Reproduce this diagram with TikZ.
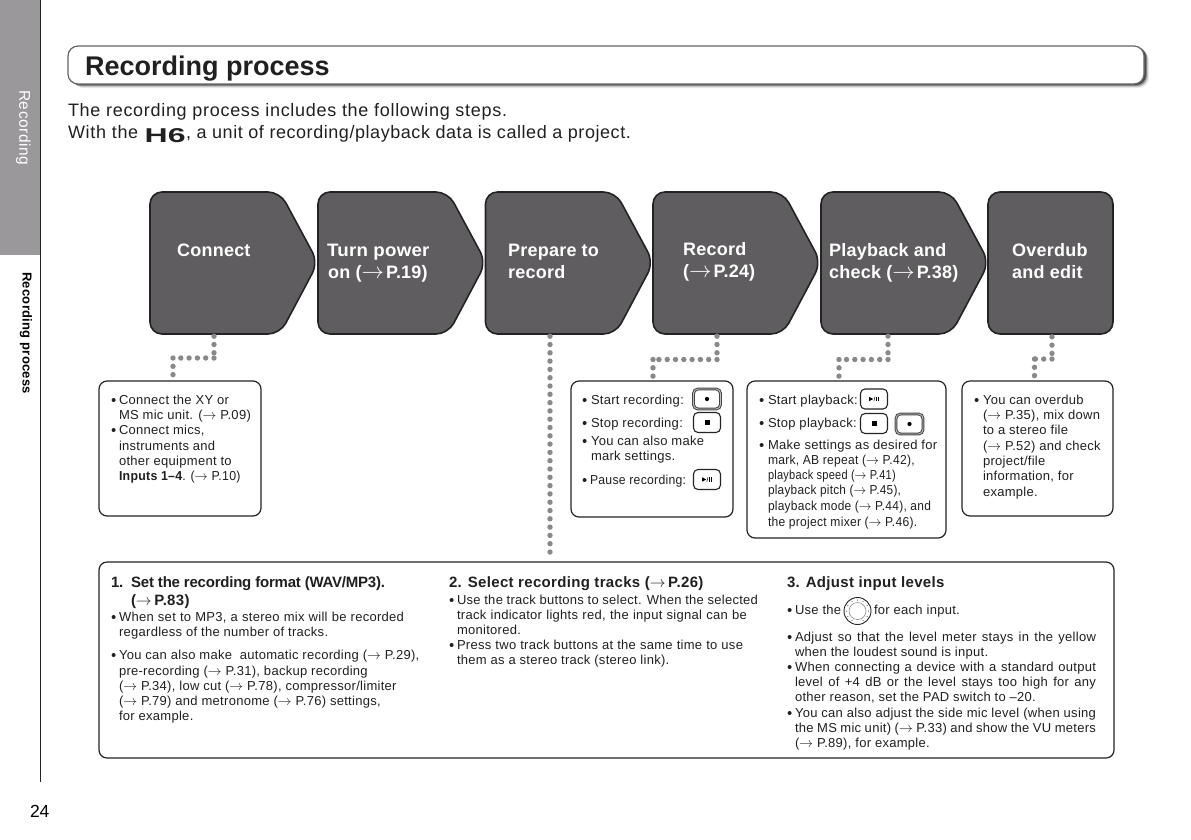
\documentclass[tikz,border=0pt]{standalone}
\usepackage{fontspec}
\setmainfont{Liberation Sans}
\newfontfamily\bodyf[LetterSpace=2.2]{Liberation Sans}
\newfontfamily\introf[LetterSpace=3.9]{Liberation Sans}
\newfontfamily\introg[LetterSpace=3.1]{Liberation Sans}
\newfontfamily\headf[LetterSpace=1.2]{Liberation Sans}
\newfontfamily\sidef[LetterSpace=3.5]{Liberation Sans}
\newfontfamily\sideg[LetterSpace=2.1]{Liberation Sans}
\newfontfamily\tightf[LetterSpace=-1.5]{Liberation Sans}
\newcount\tcnt
\newcommand{\AR}{\scalebox{1.15}{$\rightarrow$}}
\newcommand{\ARH}{\scalebox{1.3}{$\rightarrow$}\hspace{2pt}}
\newcommand{\ARS}{\scalebox{1.1}{$\rightarrow$}\,}
\definecolor{boxfill}{HTML}{5F5D5F}
\definecolor{edgec}{HTML}{232323}
\definecolor{sidec}{HTML}{9A989A}
\definecolor{dotc}{HTML}{8A888A}
\definecolor{inkc}{HTML}{202020}
\tikzset{
  txt/.style={anchor=base west,inner sep=0pt,outer sep=0pt,text=inkc,font=\bodyf\fontsize{13}{13}\selectfont},
  steptxt/.style={anchor=base west,inner sep=0pt,text=white,font=\headf\bfseries\fontsize{18}{18}\selectfont},
  subhead/.style={txt,font=\bodyf\bfseries\fontsize{15}{15}\selectfont},
  infobox/.style={draw=edgec,line width=1.2pt,rounded corners=8pt,fill=white,inner sep=0pt},
  stepshape/.style={draw=edgec,line width=1.6pt,fill=boxfill,rounded corners=12pt},
  stepnode/.style={inner sep=0pt,minimum width=#1,minimum height=142pt},
  dotline/.style={draw=dotc,line width=5.4pt,line cap=round,dash pattern=on 0pt off 8.3pt},
  dotfirst/.style={dotline,shorten <=2pt},
  dotlast/.style={dotline,shorten >=3pt},
  btnbox/.style={draw=edgec,line width=1.1pt,rounded corners=4.5pt,fill=white,inner sep=0pt,minimum width=27pt,minimum height=20pt},
  recbox/.style={btnbox,draw=edgec!85,double=sidec!60,double distance=.9pt,line width=1pt},
}
\newcommand{\TL}[4][txt]{\global\advance\tcnt by 1 \node[#1] (t\the\tcnt) at (#2,#3+4.5) {#4};}
\newcommand{\TJ}[4]{\TL{#1}{#2}{\makebox[#3pt][s]{#4}}}
\newcommand{\SX}[2]{\scalebox{#1}[1]{#2}}
\newcommand{\BD}[2]{\fill[inkc] (#1+2.6,#2) circle (2pt);}
\newcommand{\BL}[4]{\BD{#1}{#2} \TL{#3}{#2}{#4}}
\newcommand{\StepP}[2]{%
  \path[stepshape] (#2,192) -- (#2+130,192) -- (#2+168,262.5) -- (#2+130,334) -- (#2,334) -- cycle;
  \node[stepnode=164pt] (#1) at (#2+82,263) {};}
\newcommand{\BtnRec}[3]{\node[recbox] (#1) at (#2,#3) {}; \fill[black] (#2,#3) circle (2.1pt);}
\newcommand{\BtnStop}[3]{\node[btnbox] (#1) at (#2,#3) {}; \fill[black] (#2-2.5,#3-2.5) rectangle (#2+2.5,#3+2.5);}
\newcommand{\BtnPlay}[3]{\node[btnbox] (#1) at (#2,#3) {};
  \fill[black] (#2-5,#3-2.2) -- (#2-0.8,#3) -- (#2-5,#3+2.2) -- cycle;
  \draw[black,line width=.5pt] (#2-0.2,#3+2.2) -- (#2+1,#3-2.2);
  \fill[black] (#2+1.8,#3-2.2) rectangle (#2+2.8,#3+2.2);
  \fill[black] (#2+3.6,#3-2.2) rectangle (#2+4.6,#3+2.2);}
\begin{document}
\begin{tikzpicture}[x=1pt,y=-1pt]
\useasboundingbox (0,0) rectangle (1191,839);
% side tab
\node[fill=sidec,inner sep=0pt,minimum width=40pt,minimum height=255pt] (tab) at (20,127.5) {};
\coordinate (railtop) at (40,0);
\coordinate (railbot) at (40,782);
\draw[edgec,line width=1pt] (railtop) -- (railbot);
\node[rotate=-90,anchor=base west,inner sep=0pt,text=white,font=\sidef\fontsize{15.5}{15}\selectfont] (tabtxt) at (19.5,90) {Recording};
\node[rotate=-90,anchor=base west,inner sep=0pt,text=black,font=\fontsize{13}{13}\selectfont] (tabtxtb) at (22.5,272) {\sideg\bfseries Recording process};
\node[txt,text=black,font=\fontsize{17.5}{17}\selectfont] (pageno) at (30,817) {24};
% title
\foreach \o/\c in {5/8,4/20,3/45,2/70}{\fill[black!\c,rounded corners=10pt] (68+\o,46+\o-1) rectangle (1144+\o,84+\o-1);}
\node[draw=edgec!70,line width=1.2pt,fill=white,rounded corners=10pt,inner sep=0pt,minimum width=1076pt,minimum height=38pt] (titlebox) at (606,65) {};
\node[anchor=base west,inner sep=0pt,text=inkc,font=\bfseries\fontsize{27}{27}\selectfont] (title) at (85,75) {Recording process};
\node[txt,font=\introf\fontsize{18}{18}\selectfont] (intro1) at (68,116) {The recording process includes the following steps.};
\node[txt,font=\introf\fontsize{18}{18}\selectfont] (intro2) at (68,138) {With the};
\node[anchor=base west,inner sep=0pt,text=inkc,font=\bfseries\fontsize{20}{20}\selectfont] (logo) at (144.5,142) {\scalebox{1.6}[1]{H6}};
\node[txt,font=\introg\fontsize{18}{18}\selectfont] (intro3) at (186,138) {, a unit of recording/playback data is called a project.};
% connectors' elbows
\coordinate (e1a) at (214,358); \coordinate (e1b) at (173,358);
\coordinate (e3a) at (550,558);
\coordinate (e4a) at (717,359.5); \coordinate (e4b) at (653,359.5);
\coordinate (e5a) at (888,359.5); \coordinate (e5b) at (839,359.5);
\coordinate (e6a) at (1052,359); \coordinate (e6b) at (1034.5,359);
% steps
\StepP{s1}{150}
\StepP{s2}{318}
\StepP{s3}{485.5}
\StepP{s4}{653}
\StepP{s5}{821}
\node[stepshape,inner sep=0pt,minimum width=125pt,minimum height=142pt] (s6) at (1050.5,263) {};
\node[steptxt] (l1) at (177,256) {Connect};
\node[steptxt] (l2a) at (327,256) {\SX{1.04}{Turn power}};
\node[steptxt] (l2b) at (328,278) {on (\ARH P.19)};
\node[steptxt] (l3a) at (508,256) {Prepare to};
\node[steptxt] (l3b) at (508,278) {record};
\node[steptxt] (l4a) at (683,255) {Record};
\node[steptxt] (l4b) at (683,277) {(\ARH P.24)};
\node[steptxt] (l5a) at (829,256) {Playback and};
\node[steptxt] (l5b) at (829,278) {check (\ARH P.38)};
\node[steptxt] (l6a) at (1012,256) {Overdub};
\node[steptxt] (l6b) at (1012,278) {and edit};
% boxes
\node[infobox,minimum width=162pt,minimum height=135pt] (ba) at (180,448.5) {};
\node[infobox,minimum width=162pt,minimum height=136pt] (bb) at (652,449) {};
\node[infobox,minimum width=199pt,minimum height=157pt] (bc) at (846.5,459.5) {};
\node[infobox,minimum width=151pt,minimum height=135pt] (bd) at (1037.5,448.5) {};
\node[infobox,minimum width=1015pt,minimum height=196pt] (bm) at (606.5,660) {};
% connectors
\draw[dotfirst] (e1a |- s1.south) -- (e1a);
\draw[dotline] (e1a) -- (e1b);
\draw[dotlast] (e1b) -- (e1b |- ba.north);
\draw[dotfirst,shorten >=4pt] (e3a |- s3.south) -- (e3a);
\draw[dotfirst] (e4a |- s4.south) -- (e4a);
\draw[dotline] (e4a) -- (e4b);
\draw[dotlast] (e4b) -- (e4b |- bb.north);
\draw[dotfirst] (e5a |- s5.south) -- (e5a);
\draw[dotline] (e5a) -- (e5b);
\draw[dotlast] (e5b) -- (e5b |- bc.north);
\draw[dotfirst] (e6a |- s6.south) -- (e6a);
\draw[dotline] (e6a) -- (e6b);
\draw[dotlast] (e6b) -- (e6b |- bd.north);
% box A
\BL{111}{400}{119}{Connect the XY or}
\TL{119}{415}{MS mic unit. (\AR\ P.09)}
\BL{111}{430}{119}{Connect mics,}
\TL{119}{446}{instruments and}
\TL{119}{461}{other equipment to}
\TL{119}{476}{\SX{.95}{\textbf{Inputs 1–4}. (\AR\ P.10)}}
% box B
\BL{582}{400}{591}{Start recording:}
\BL{582}{423}{591}{Stop recording:}
\BL{582}{441}{591}{You can also make}
\TL{591}{456}{mark settings.}
\BL{582}{480}{590}{\SX{.94}{Pause recording:}}
\BtnRec{b1}{707}{399}
\BtnStop{b2}{707}{422.5}
\BtnPlay{b3}{707}{479.5}
% box C
\BL{759}{400}{768}{Start playback:}
\BL{759}{423}{768}{Stop playback:}
\BL{759}{445}{768}{Make settings as desired for}
\TL{768}{460}{\SX{.93}{mark, AB repeat (\AR\ P.42),}}
\TL{768}{475}{\SX{.85}{playback speed (\AR\ P.41)}}
\TL{768}{490}{\SX{.91}{playback pitch (\AR\ P.45),}}
\TL{768}{506}{\SX{.92}{playback mode (\AR\ P.44), and}}
\TL{768}{522}{\SX{.93}{the project mixer (\AR\ P.46).}}
\BtnPlay{b4}{874}{399}
\BtnStop{b5}{874}{423.5}
\BtnRec{b6}{909.5}{424}
% box D
\BL{974}{400}{983}{You can overdub}
\TL{983}{415}{(\AR\ P.35), mix down}
\TL{983}{430}{to a stereo file}
\TL{983}{446}{(\AR\ P.52) and check}
\TL{983}{461}{project/file}
\TL{983}{476}{information, for}
\TL{983}{492}{example.}
% column 1
\TL[subhead,font=\tightf\bfseries\fontsize{15}{15}\selectfont]{111}{583}{1.\ \ Set the recording format (WAV/MP3).}
\TL[subhead]{131}{601}{(\ARS P.83)}
\BD{111}{617}\TJ{119}{617}{285}{When set to MP3, a stereo mix will be recorded}
\TL{119}{632}{regardless of the number of tracks.}
\BL{111}{655}{119}{You can also make\ \ automatic recording (\AR\ P.29),}
\TL{119}{671}{pre-recording (\AR\ P.31), backup recording}
\TL{119}{686}{(\AR\ P.34), low cut (\AR\ P.78), compressor/limiter}
\TL{119}{701}{(\AR\ P.79) and metronome (\AR\ P.76) settings,}
\TL{119}{716}{for example.}
% column 2
\TL[subhead]{449}{583}{2. Select recording tracks (\ARS P.26)}
\BD{449}{600}\TJ{457}{600}{301}{Use the track buttons to select. When the selected}
\TJ{457}{615}{290}{track indicator lights red, the input signal can be}
\TL{457}{630}{monitored.}
\BD{449}{645}\TJ{457}{645}{286}{Press two track buttons at the same time to use}
\TL{457}{660}{them as a stereo track (stereo link).}
% column 3
\TL[subhead]{787}{583}{3. Adjust input levels}
\BL{787}{610}{795}{Use the}
\node[draw=edgec,line width=.9pt,circle,inner sep=0pt,minimum size=27pt] (knob) at (857.5,611) {};
\node[draw=edgec!60,line width=.5pt,circle,inner sep=0pt,minimum size=17pt] (knobin) at (857.5,611) {};
\foreach \a in {-60,-30,...,240}{\fill[edgec] (857.5,611)+(\a:-11) circle (.5pt);}
\TL{874}{610}{for each input.}
\BD{787}{637}\TJ{795}{637}{301}{Adjust so that the level meter stays in the yellow}
\TL{795}{652}{when the loudest sound is input.}
\BD{787}{667}\TJ{795}{667}{301}{When connecting a device with a standard output}
\TJ{795}{682}{301}{level of +4 dB or the level stays too high for any}
\TL{795}{697}{other reason, set the PAD switch to –20.}
\BD{787}{713}\TJ{795}{713}{301}{You can also adjust the side mic level (when using}
\TJ{795}{728}{301}{the MS mic unit) (\AR\ P.33) and show the VU meters}
\TL{795}{743}{(\AR\ P.89), for example.}
\end{tikzpicture}
\end{document}
